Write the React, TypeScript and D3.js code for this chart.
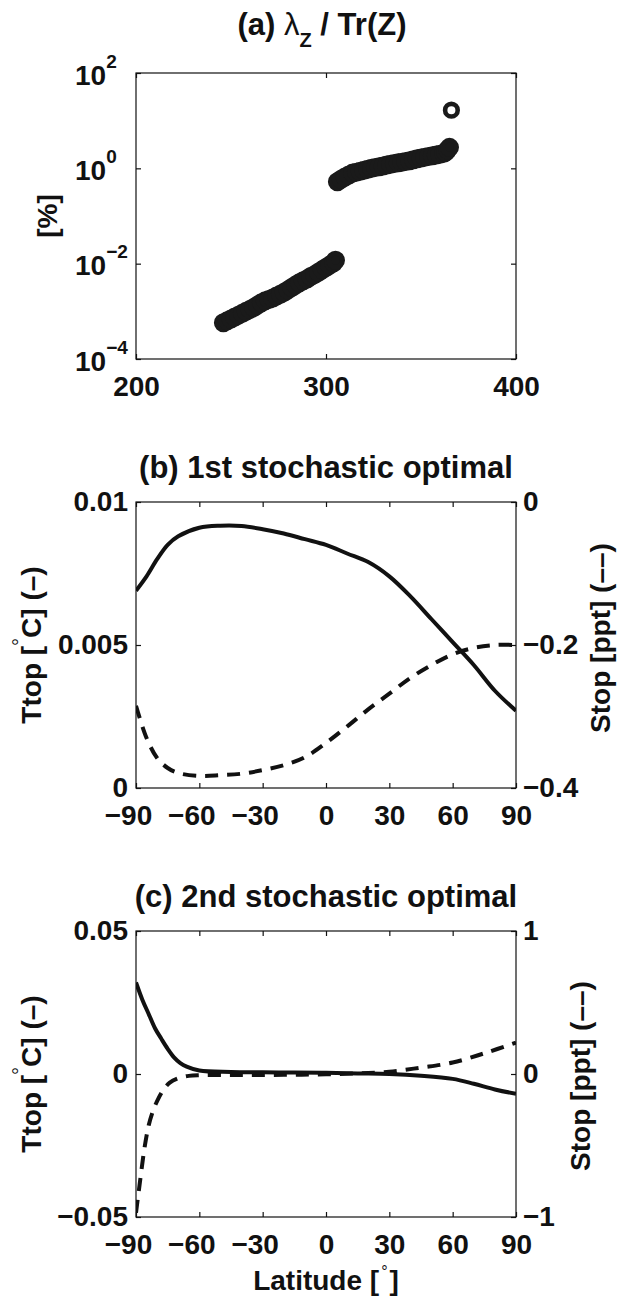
import React, { useRef, useEffect } from "react";
import * as d3 from "d3";

// (a) eigenvalue spectrum, [index, log10 of lambda/Tr(Z) in %]
const eigLower: [number, number][] = [
  [246, -3.24], [248, -3.2], [250, -3.16], [252, -3.12], [254, -3.08], [256, -3.04],
  [258, -3.0], [260, -2.96], [262, -2.92], [264, -2.87], [266, -2.82], [268, -2.78],
  [270, -2.75], [272, -2.72], [274, -2.68], [276, -2.64], [278, -2.6], [280, -2.55],
  [282, -2.5], [284, -2.45], [286, -2.4], [288, -2.36], [290, -2.32], [292, -2.27],
  [294, -2.23], [296, -2.18], [298, -2.13], [300, -2.08], [302, -2.03], [304, -1.98],
  [305, -1.93],
];
const eigUpper: [number, number][] = [
  [306, -0.28], [308, -0.23], [310, -0.18], [312, -0.14], [314, -0.1], [316, -0.08],
  [318, -0.06], [320, -0.04], [322, -0.02], [324, 0.0], [326, 0.02], [328, 0.035],
  [330, 0.05], [332, 0.07], [334, 0.085], [336, 0.1], [338, 0.115], [340, 0.13],
  [342, 0.145], [344, 0.16], [346, 0.18], [348, 0.2], [350, 0.215], [352, 0.235],
  [354, 0.25], [356, 0.265], [358, 0.28], [360, 0.295], [362, 0.315], [363, 0.34],
  [364, 0.39], [365, 0.44],
];
const eigLeading: [number, number][] = [[366, 1.22]];

const eigXTicks = [200, 300, 400];
const eigYTicks = [1e-4, 1e-2, 1, 1e2];
const eigYExp = ["\u22124", "\u22122", "0", "2"];

// (b) 1st stochastic optimal
const latB = [-90, -85, -80, -75, -70, -60, -50, -40, -30, -20, -10, 0, 10, 20, 30, 40, 50, 60, 70, 80, 90];
const ttopB = [0.0069, 0.0074, 0.008, 0.0085, 0.0088, 0.0091, 0.00917, 0.00916, 0.00905, 0.0089, 0.0087,
  0.0085, 0.0082, 0.0079, 0.0074, 0.0067, 0.0059, 0.0051, 0.0043, 0.0034, 0.0027];
const stopB = [-0.285, -0.33, -0.358, -0.372, -0.379, -0.383, -0.382, -0.38, -0.375, -0.368, -0.357,
  -0.337, -0.314, -0.29, -0.268, -0.246, -0.228, -0.213, -0.204, -0.2, -0.2];

// (c) 2nd stochastic optimal
const latCt = [-90, -87, -84, -81, -78, -75, -72, -69, -66, -60, -45, -30, -15, 0, 15, 30, 45, 60, 70, 80, 90];
const ttopC = [0.032, 0.026, 0.021, 0.016, 0.0123, 0.0088, 0.0058, 0.0038, 0.0026, 0.0012, 0.0007, 0.0006,
  0.0005, 0.0004, 0.0002, 0.0, -0.0006, -0.0017, -0.0034, -0.0054, -0.0069];
const latCs = [-90, -88, -86, -84, -82, -80, -77, -74, -70, -65, -60, -45, -30, -15, 0, 15, 30, 45, 60, 75, 90];
const stopC = [-0.97, -0.74, -0.52, -0.36, -0.26, -0.19, -0.11, -0.06, -0.03, -0.013, -0.008, -0.007, -0.007,
  -0.005, -0.002, 0.005, 0.016, 0.045, 0.08, 0.145, 0.22];

const latTicks = [-90, -60, -30, 0, 30, 60, 90];

const W = 617;
const H = 1296;
const FONT = "'Liberation Sans', Arial, Helvetica, sans-serif";
const INK = "#111";

const App = () => {
  const svgRef = useRef<SVGSVGElement>(null);

  useEffect(() => {
    const svg = d3.select(svgRef.current);
    svg.selectAll("*").remove();
    svg.append("rect").attr("width", W).attr("height", H).attr("fill", "#fff");

    const left = 136;
    const right = 516;
    const plotH = 286;
    const cx = (left + right) / 2;
    const minus = (v: number) => (v < 0 ? "\u2212" + String(-v) : String(v));

    const styleAxis = (g: any, size = 28) => {
      g.select(".domain").remove();
      g.attr("font-family", FONT).attr("font-size", size).attr("font-weight", "bold");
      g.selectAll("line").attr("stroke", INK).attr("stroke-width", 1.2);
      g.selectAll("text").attr("fill", INK);
    };

    const frame = (top: number) =>
      svg.append("rect").attr("x", left).attr("y", top).attr("width", right - left)
        .attr("height", plotH).attr("fill", "none").attr("stroke", INK).attr("stroke-width", 1.2);

    const clip = (id: string, top: number) =>
      svg.append("clipPath").attr("id", id).append("rect")
        .attr("x", left).attr("y", top).attr("width", right - left).attr("height", plotH);

    const label = (txt: string, x: number, y: number, rot: boolean) => {
      const t = svg.append("text")
        .attr("transform", rot ? `translate(${x},${y}) rotate(-90)` : `translate(${x},${y})`)
        .attr("text-anchor", "middle").attr("font-family", FONT).attr("font-weight", "bold")
        .attr("font-size", 28).attr("fill", INK);
      return t.text(txt);
    };

    // ---------- (a) ----------
    {
      const top = 73;
      const x = d3.scaleLinear().domain([200, 400]).range([left, right]);
      const y = d3.scaleLog().domain([1e-4, 1e2]).range([top + plotH, top]);

      svg.append("text").attr("x", 322).attr("y", 35).attr("text-anchor", "middle")
        .attr("font-family", FONT).attr("font-weight", "bold").attr("font-size", 31).attr("fill", INK)
        .call((t: any) => {
          t.append("tspan").text("(a) ");
          t.append("tspan").attr("font-weight", "normal").text("\u03bb");
          t.append("tspan").attr("font-size", 20).attr("dy", 12).text("Z");
          t.append("tspan").attr("font-size", 31).attr("dy", -12).text(" / Tr(Z)");
        });

      const g = svg.append("g");
      const marks = [...eigLower, ...eigUpper];
      g.selectAll("circle.f").data(marks).enter().append("circle")
        .attr("cx", (d) => x(d[0])).attr("cy", (d) => y(Math.pow(10, d[1])))
        .attr("r", 7).attr("fill", "#1a1a1a").attr("stroke", "#1a1a1a").attr("stroke-width", 5);
      g.selectAll("circle.o").data(eigLeading).enter().append("circle")
        .attr("cx", (d) => x(d[0])).attr("cy", (d) => y(Math.pow(10, d[1])))
        .attr("r", 6.3).attr("fill", "none").attr("stroke", "#1a1a1a").attr("stroke-width", 4.6);

      frame(top);
      const gb = svg.append("g").attr("transform", `translate(0,${top + plotH})`)
        .call(d3.axisBottom(x).tickValues(eigXTicks).tickSize(-5).tickPadding(17).tickFormat((d: any) => String(d)));
      styleAxis(gb);
      const gt = svg.append("g").attr("transform", `translate(0,${top})`)
        .call(d3.axisTop(x).tickValues(eigXTicks).tickSize(-5).tickFormat(() => ""));
      styleAxis(gt);
      const gl = svg.append("g").attr("transform", `translate(${left},0)`)
        .call(d3.axisLeft(y).tickValues(eigYTicks).tickSize(-5).tickFormat(() => ""));
      styleAxis(gl);
      gl.selectAll(".tick").each(function (_d: any, i: number) {
        const t = d3.select(this).append("text").attr("x", -61).attr("y", 11)
          .attr("text-anchor", "start").attr("fill", INK);
        t.append("tspan").text("10");
        t.append("tspan").attr("font-size", 19).attr("dy", -17).text(eigYExp[i]);
      });
      const gr = svg.append("g").attr("transform", `translate(${right},0)`)
        .call(d3.axisRight(y).tickValues(eigYTicks).tickSize(-5).tickFormat(() => ""));
      styleAxis(gr);

      label("[%]", 57, top + plotH / 2, true);
    }

    // ---------- latitude panels ----------
    const latPanel = (o: any) => {
      const top = o.top;
      const x = d3.scaleLinear().domain([-90, 90]).range([left, right]);
      const yL = d3.scaleLinear().domain(o.domL).range([top + plotH, top]);
      const yR = d3.scaleLinear().domain(o.domR).range([top + plotH, top]);

      svg.append("text").attr("x", cx).attr("y", top - 24).attr("text-anchor", "middle")
        .attr("font-family", FONT).attr("font-weight", "bold").attr("font-size", 31).attr("fill", INK)
        .text(o.title);

      clip(o.id, top);
      const g = svg.append("g").attr("clip-path", `url(#${o.id})`);
      const solid = d3.line<[number, number]>().x((d) => x(d[0])).y((d) => yL(d[1])).curve(d3.curveCatmullRom.alpha(0.5));
      const dashed = d3.line<[number, number]>().x((d) => x(d[0])).y((d) => yR(d[1])).curve(d3.curveCatmullRom.alpha(0.5));
      g.append("path").attr("d", dashed(d3.zip(o.latS, o.stop) as any)).attr("fill", "none")
        .attr("stroke", INK).attr("stroke-width", 4).attr("stroke-dasharray", "13 9");
      g.append("path").attr("d", solid(d3.zip(o.latT, o.ttop) as any)).attr("fill", "none")
        .attr("stroke", INK).attr("stroke-width", 4);

      frame(top);
      const gb = svg.append("g").attr("transform", `translate(0,${top + plotH})`)
        .call(d3.axisBottom(x).tickValues(latTicks).tickSize(-5).tickPadding(o.xPad).tickFormat((d: any) => minus(d)));
      styleAxis(gb);
      gb.selectAll("text").attr("x", (d: any) => (d < 0 ? -8 : 0));
      const gt = svg.append("g").attr("transform", `translate(0,${top})`)
        .call(d3.axisTop(x).tickValues(latTicks).tickSize(-5).tickFormat(() => ""));
      styleAxis(gt);
      const gl = svg.append("g").attr("transform", `translate(${left},0)`)
        .call(d3.axisLeft(yL).tickValues(o.ticksL).tickSize(-5).tickPadding(8).tickFormat((d: any) => minus(d)));
      styleAxis(gl);
      const gr = svg.append("g").attr("transform", `translate(${right},0)`)
        .call(d3.axisRight(yR).tickValues(o.ticksR).tickSize(-5).tickPadding(7).tickFormat((d: any) => minus(d)));
      styleAxis(gr);

      // left label with superscript degree
      const tl = svg.append("text")
        .attr("transform", `translate(41,${top + plotH / 2}) rotate(-90)`)
        .attr("text-anchor", "middle").attr("font-family", FONT).attr("font-weight", "bold")
        .attr("font-size", 28).attr("fill", INK);
      tl.append("tspan").text("Ttop [");
      tl.append("tspan").attr("font-size", 20).attr("font-weight", "normal").attr("dy", -14).text("\u00b0");
      tl.append("tspan").attr("font-size", 28).attr("dy", 14).text("C] (\u2013)");

      label("Stop [ppt] (\u2013\u2013)", o.rightLabelX, o.rightLabelY, true);
    };

    latPanel({
      id: "clipB", top: 502, title: "(b) 1st stochastic optimal", xPad: 17,
      domL: [0, 0.01], domR: [-0.4, 0], ticksL: [0, 0.005, 0.01], ticksR: [-0.4, -0.2, 0],
      latT: latB, ttop: ttopB, latS: latB, stop: stopB, rightLabelX: 610, rightLabelY: 638,
    });
    latPanel({
      id: "clipC", top: 931, title: "(c) 2nd stochastic optimal", xPad: 17,
      domL: [-0.05, 0.05], domR: [-1, 1], ticksL: [-0.05, 0, 0.05], ticksR: [-1, 0, 1],
      latT: latCt, ttop: ttopC, latS: latCs, stop: stopC, rightLabelX: 590, rightLabelY: 1076,
    });

    // x label for bottom panel
    const xl = svg.append("text").attr("x", cx).attr("y", 1290).attr("text-anchor", "middle")
      .attr("font-family", FONT).attr("font-weight", "bold").attr("font-size", 28).attr("fill", INK);
    xl.append("tspan").text("Latitude [");
    xl.append("tspan").attr("font-size", 16).attr("font-weight", "normal").attr("dy", -13).attr("dx", 2).text("\u00b0");
    xl.append("tspan").attr("font-size", 28).attr("dy", 13).attr("dx", 2).text("]");
  }, []);

  return (
    <svg ref={svgRef} width={W} height={H}
      style={{ position: "absolute", left: 0, top: 0, display: "block" }} />
  );
};

export default App;
